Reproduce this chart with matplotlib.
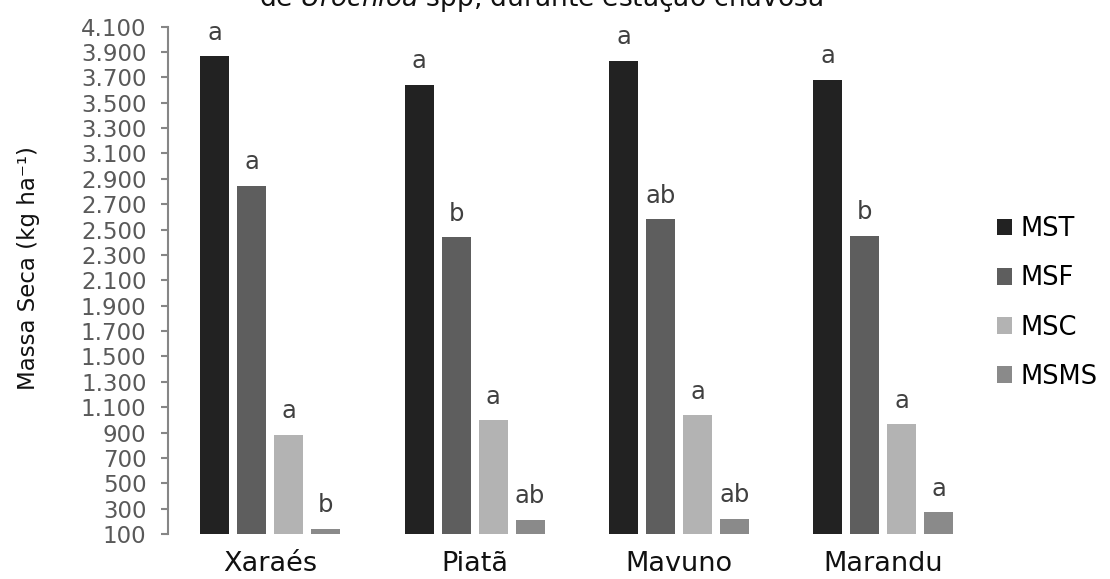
import matplotlib
matplotlib.use("Agg")
import matplotlib.pyplot as plt
import numpy as np
from matplotlib.patches import Patch
from matplotlib.ticker import FuncFormatter

# Massa seca por cultivar (kg/ha)
cultivares = ["Xaraés", "Piatã", "Mavuno", "Marandu"]
series = ["MST", "MSF", "MSC", "MSMS"]
mst = [3865, 3640, 3830, 3680]
msf = [2845, 2440, 2580, 2450]
msc = [880, 995, 1035, 965]
msms = [140, 210, 220, 270]
letras_mst = ["a", "a", "a", "a"]
letras_msf = ["a", "b", "ab", "b"]
letras_msc = ["a", "a", "a", "a"]
letras_msms = ["b", "ab", "ab", "a"]

valores = [mst, msf, msc, msms]
letras = [letras_mst, letras_msf, letras_msc, letras_msms]
cores = ["#222222", "#5e5e5e", "#b3b3b3", "#8a8a8a"]

plt.rcParams["font.family"] = ["DejaVu Sans"]

fig = plt.figure(figsize=(11.1, 5.79), dpi=100)
ax = fig.add_axes([0.1514, 0.0777, 0.7366, 0.8763])

x = np.arange(len(cultivares))
passo = 0.181
largura = 0.142
for i, (vals, cor, lts) in enumerate(zip(valores, cores, letras)):
    pos = x + (i - 1.5) * passo
    ax.bar(pos, np.array(vals) - 100, width=largura, bottom=100, color=cor)
    for px, v, l in zip(pos, vals, lts):
        ax.annotate(l, (px, v), xytext=(0, 12), textcoords="offset points",
                    ha="center", va="baseline", fontsize=17.5, color="#404040")

ax.set_xlim(-0.5, 3.5)
ax.set_ylim(100, 4100)
ax.set_yticks(np.arange(100, 4101, 200))
ax.yaxis.set_major_formatter(FuncFormatter(lambda v, p: f"{int(v):,}".replace(",", ".")))
ax.set_xticks(x)
ax.set_xticklabels(cultivares)

for s in ["top", "right", "bottom"]:
    ax.spines[s].set_visible(False)
ax.spines["left"].set_color("#868686")
ax.spines["left"].set_linewidth(1.5)
ax.tick_params(axis="y", direction="out", length=5, width=1.5, color="#868686",
               labelsize=16.5, labelcolor="#595959", pad=10.5)
ax.tick_params(axis="x", length=0, labelsize=19.5, labelcolor="#111111", pad=12)

fig.text(29 / 1110, 1 - 268 / 579, "Massa Seca (kg ha⁻¹)",
         rotation=90, ha="center", va="center", fontsize=16.5, color="#111111")

fig.text(0.487, 1 - 6 / 579, "de $\\it{Urochloa}$ spp, durante estação chuvosa",
         ha="center", va="baseline", fontsize=19, color="#111111")

handles = [Patch(facecolor=c, edgecolor="none") for c in cores]
fig.legend(handles, series, loc="center left", bbox_to_anchor=(0.889, 1 - 303 / 579),
           frameon=False, fontsize=18.5, handlelength=0.6, handleheight=0.6,
           handletextpad=0.3, labelspacing=0.9, borderaxespad=0)

fig.savefig("out.png", dpi=100)
